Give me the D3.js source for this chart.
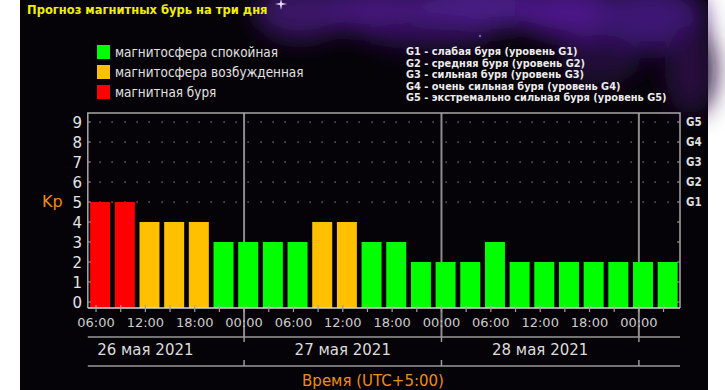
<!DOCTYPE html>
<html>
<head>
<meta charset="utf-8">
<script src="https://cdn.jsdelivr.net/npm/d3@7"></script>
<style>
  body { margin: 0; background: #fff; }
  svg { display: block; }
</style>
</head>
<body>
<svg width="725" height="390"></svg>
<script>
(function (d3) {
  'use strict';

  // --- data ---
  const kpValues = [5, 5, 4, 4, 4, 3, 3, 3, 3, 4, 4, 3, 3, 2, 2, 2, 3, 2, 2, 2, 2, 2, 2, 2];
  const legendLabels = ['магнитосфера спокойная', 'магнитосфера возбужденная', 'магнитная буря'];
  const stormLevels = [
    'G1 - слабая буря (уровень G1)',
    'G2 - средняя буря (уровень G2)',
    'G3 - сильная буря (уровень G3)',
    'G4 - очень сильная буря (уровень G4)',
    'G5 - экстремально сильная буря (уровень G5)'
  ];
  const gLabels = ['G1', 'G2', 'G3', 'G4', 'G5'];
  const yTicks = [0, 1, 2, 3, 4, 5, 6, 7, 8, 9];
  const timeLabels = ['06:00', '12:00', '18:00', '00:00', '06:00', '12:00', '18:00', '00:00', '06:00', '12:00', '18:00', '00:00'];
  const dayLabels = ['26 мая 2021', '27 мая 2021', '28 мая 2021'];
  const title = 'Прогноз магнитных бурь на три дня';
  const xTitle = 'Время (UTC+5:00)';

  const firstSlot = 5;   // hours from 26 May 00:00
  const slotLen = 3;

  const svg = d3.select('svg');
  const height = +svg.attr('height');

  const green = '#00ff00', yellow = '#ffc000', red = '#ff0000';
  const legendColors = [green, yellow, red];
  const colorOf = v => v >= 5 ? red : (v >= 4 ? yellow : green);
  const orange = '#ee8c14';
  const sans = '"DejaVu Sans", Verdana, sans-serif';
  const cond = '"DejaVu Sans Condensed", "DejaVu Sans", sans-serif';

  // --- background ---
  const defs = svg.append('defs');
  defs.append('filter').attr('id', 'blur')
    .attr('x', '-50%').attr('y', '-50%').attr('width', '200%').attr('height', '200%')
    .append('feGaussianBlur').attr('stdDeviation', 12);

  svg.append('rect').attr('x', 20).attr('y', 0).attr('width', 688).attr('height', height).attr('fill', '#050307');

  const neb = svg.append('g').attr('filter', 'url(#blur)');
  [[300, 12, 45, 28, '#3a1266'], [380, 10, 60, 24, '#44187a'], [480, 6, 70, 24, '#4a1a86'],
   [570, 12, 55, 26, '#4c1888'], [650, 18, 55, 32, '#3e1474'], [690, 70, 25, 45, '#26103e'],
   [430, 36, 60, 14, '#2a0c4c'], [600, 60, 40, 25, '#200a38']].forEach(e => {
    neb.append('ellipse').attr('cx', e[0]).attr('cy', e[1]).attr('rx', e[2]).attr('ry', e[3]).attr('fill', e[4]);
  });
  svg.append('path').attr('d', 'M281,-1L282,3L287,4L282,5L281,10L280,5L275,4L280,3Z').attr('fill', '#e8e0ff');
  svg.append('circle').attr('cx', 480).attr('cy', 36).attr('r', 1.2).attr('fill', '#8a5ad0');

  // --- title ---
  svg.append('text')
    .attr('x', 27).attr('y', 14)
    .attr('font-family', cond).attr('font-weight', 'bold').attr('font-size', 12.8)
    .attr('fill', '#f2f000')
    .text(title);

  // --- legends ---
  const leg = svg.append('g').attr('transform', 'translate(97,45)');
  leg.selectAll('rect').data(legendLabels).enter().append('rect')
    .attr('x', 0).attr('y', (d, i) => i * 20)
    .attr('width', 13).attr('height', 14)
    .attr('fill', (d, i) => legendColors[i]);
  leg.selectAll('text').data(legendLabels).enter().append('text')
    .attr('x', 18).attr('y', (d, i) => i * 20 + 12)
    .attr('font-family', cond).attr('font-size', 13.4)
    .attr('fill', '#e2e2e2')
    .text(d => d);

  svg.append('g').selectAll('text').data(stormLevels).enter().append('text')
    .attr('x', 406).attr('y', (d, i) => 55 + i * 11.5)
    .attr('font-family', cond).attr('font-weight', 'bold').attr('font-size', 10.9)
    .attr('fill', '#ececec')
    .text(d => d);

  // --- scales ---
  const plot = { left: 87.8, right: 680, top: 113, bottom: 308 };
  const nSlots = kpValues.length;
  const lastHour = firstSlot + nSlots * slotLen;
  const x = d3.scaleLinear()
    .domain([firstSlot, lastHour])
    .range([plot.left, plot.right]);
  const y = d3.scaleLinear()
    .domain([-0.3, 9.45])
    .range([plot.bottom, plot.top]);

  const slotW = x(firstSlot + slotLen) - x(firstSlot);
  const barW = slotW * 0.81;
  const dayHours = [24, 48, 72];
  const labelHours = timeLabels.map((t, i) => 6 + i * 6);
  const tickHours = d3.range(6, lastHour, 3);

  const g = svg.append('g');

  // dotted grid
  const dotHours = d3.range(firstSlot + 1.5, lastHour - 0.1, 1.5);
  [5, 6, 7, 8, 9].forEach(v => {
    g.append('g').selectAll('rect').data(dotHours).enter().append('rect')
      .attr('x', h => Math.round(x(h)) - 0.5).attr('y', Math.round(y(v)) - 0.5)
      .attr('width', 1.2).attr('height', 1.2)
      .attr('fill', '#9a9a9a');
  });

  // day separators
  g.append('g').selectAll('line').data(dayHours).enter().append('line')
    .attr('x1', h => x(h)).attr('x2', h => x(h))
    .attr('y1', plot.top).attr('y2', 337)
    .attr('stroke', '#8c8c8c').attr('stroke-width', 2);

  // bars
  g.append('g').selectAll('rect').data(kpValues).enter().append('rect')
    .attr('x', (v, i) => x(firstSlot + i * slotLen) + (slotW - barW) / 2)
    .attr('width', barW)
    .attr('y', v => y(v))
    .attr('height', v => plot.bottom - y(v))
    .attr('fill', v => colorOf(v));

  // frame
  g.append('path')
    .attr('d', `M${plot.left},${plot.bottom}V${plot.top}H${plot.right}V${plot.bottom}`)
    .attr('fill', 'none').attr('stroke', '#a8a8a8').attr('stroke-width', 1.5);
  g.append('line')
    .attr('x1', plot.left).attr('x2', plot.right)
    .attr('y1', plot.bottom).attr('y2', plot.bottom)
    .attr('stroke', '#d8d8d8').attr('stroke-width', 1.5);

  // inner ticks on frame
  g.append('g').selectAll('line').data(yTicks).enter().append('line')
    .attr('x1', plot.left).attr('x2', plot.left + 3)
    .attr('y1', v => y(v)).attr('y2', v => y(v))
    .attr('stroke', '#a8a8a8');
  g.append('g').selectAll('line').data(yTicks).enter().append('line')
    .attr('x1', plot.right - 3).attr('x2', plot.right)
    .attr('y1', v => y(v)).attr('y2', v => y(v))
    .attr('stroke', '#a8a8a8');
  g.append('g').selectAll('line').data(tickHours).enter().append('line')
    .attr('x1', h => x(h)).attr('x2', h => x(h))
    .attr('y1', plot.bottom - 3).attr('y2', plot.bottom + 4)
    .attr('stroke', '#a0a0a0').attr('stroke-width', 1.2);

  // left axis labels
  g.append('g').selectAll('text').data(yTicks).enter().append('text')
    .attr('x', 82).attr('y', v => y(v) + 5.5)
    .attr('text-anchor', 'end')
    .attr('font-family', sans).attr('font-size', 15)
    .attr('fill', '#e4e4e4')
    .text(v => v);

  g.append('text')
    .attr('x', 42).attr('y', y(5) + 5)
    .attr('font-family', sans).attr('font-size', 16)
    .attr('fill', orange)
    .text('Kp');

  // right G labels
  g.append('g').selectAll('text').data(gLabels).enter().append('text')
    .attr('x', 686).attr('y', (d, i) => y(5 + i) + 4)
    .attr('font-family', cond).attr('font-weight', 'bold').attr('font-size', 11.5)
    .attr('fill', '#dedede')
    .text(d => d);

  // time labels
  g.append('g').selectAll('text').data(timeLabels).enter().append('text')
    .attr('x', (t, i) => x(labelHours[i])).attr('y', 327)
    .attr('text-anchor', 'middle')
    .attr('font-family', sans).attr('font-size', 13)
    .attr('fill', '#cccccc')
    .text(t => t);

  // date band
  [337, 366].forEach(yy => {
    g.append('line')
      .attr('x1', plot.left).attr('x2', plot.right)
      .attr('y1', yy).attr('y2', yy)
      .attr('stroke', '#9a9a9a').attr('stroke-width', 1.5);
  });
  g.append('g').selectAll('line').data(dayHours).enter().append('line')
    .attr('x1', h => x(h)).attr('x2', h => x(h))
    .attr('y1', 337).attr('y2', 342)
    .attr('stroke', '#9a9a9a').attr('stroke-width', 1.5);
  g.append('g').selectAll('line').data(dayHours).enter().append('line')
    .attr('x1', h => x(h)).attr('x2', h => x(h))
    .attr('y1', 360).attr('y2', 366)
    .attr('stroke', '#9a9a9a').attr('stroke-width', 1.5);

  g.append('g').selectAll('text').data(dayLabels).enter().append('text')
    .attr('x', (d, i) => x(12 + i * 24)).attr('y', 355)
    .attr('text-anchor', 'middle')
    .attr('font-family', sans).attr('font-size', 15)
    .attr('fill', '#dcdcdc')
    .text(d => d);

  svg.append('text')
    .attr('x', 373).attr('y', 386)
    .attr('text-anchor', 'middle')
    .attr('font-family', sans).attr('font-size', 15)
    .attr('fill', orange)
    .text(xTitle);

}(d3));
</script>
</body>
</html>
